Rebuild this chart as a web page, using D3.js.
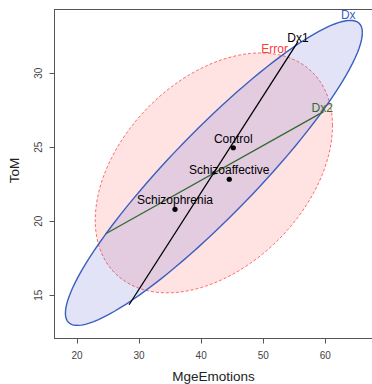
<!DOCTYPE html>
<html>
<head>
<meta charset="utf-8">
<script src="https://cdn.jsdelivr.net/npm/d3@7"></script>
<style>
	html, body { margin: 0; padding: 0; background: #fff; }
	svg { display: block; font-family: "Liberation Sans", Arial, sans-serif; }
</style>
</head>
<body>
<svg id="chart" width="372" height="384"></svg>
<script>
// HE plot: MgeEmotions vs ToM by diagnosis group

const xTicks = [20, 30, 40, 50, 60];
const yTicks = [15, 20, 25, 30];

// grand mean (centre of every ellipse)
const grandMean = [42.05, 23.27];

// group means
const groupNames = ["Control", "Schizoaffective", "Schizophrenia"];
const groupX = [45.18, 44.53, 35.79];
const groupY = [24.97, 22.84, 20.81];

// ellipse shape matrices [xx, xy, yy]
const dxShape = [572.1, 226.7, 106.2];
const errorShape = [365.3, 61.0, 65.7];

// contrast lines (1-df hypotheses), endpoints [x1, y1, x2, y2]
const dx1Line = [28.39, 14.36, 55.6, 32.14];
const dx2Line = [24.63, 19.16, 59.73, 27.41];

// ellipse / line labels: text, x, y
const ellipseLabels = [
	{ text: "Dx", x: 63.7, y: 33.66, color: "#3a5fbf" },
	{ text: "Dx1", x: 55.6, y: 32.11, color: "#000" },
	{ text: "Error", x: 51.85, y: 31.4, color: "#ff3b3b" },
	{ text: "Dx2", x: 59.5, y: 27.41, color: "#2f6b2f" },
];

const svg = d3.select("#chart");

const x = d3.scaleLinear().domain([20, 60]).range([77, 325.3]);
const y = d3.scaleLinear().domain([15, 30]).range([295.3, 73.3]);

const frame = { left: 54, top: 9, right: 378, bottom: 338 };

function ellipsePoints(center, shape, n = 120) {
	const [a, b, c] = shape;
	const r11 = Math.sqrt(a);
	const r12 = b / r11;
	const r22 = Math.sqrt(c - r12 * r12);
	return d3.range(n + 1).map((i) => {
		const t = (2 * Math.PI * i) / n;
		return [
			x(center[0] + Math.cos(t) * r11),
			y(center[1] + Math.cos(t) * r12 + Math.sin(t) * r22),
		];
	});
}

const line = d3.line();

// Error ellipse
svg
	.append("path")
	.attr("d", line(ellipsePoints(grandMean, errorShape)))
	.style("fill", "rgb(255, 90, 90)")
	.style("fill-opacity", 0.17)
	.style("stroke", "#ff6a6a")
	.style("stroke-width", "1px")
	.style("stroke-dasharray", "3 2");

// Dx ellipse
svg
	.append("path")
	.attr("d", line(ellipsePoints(grandMean, dxShape)))
	.style("fill", "rgb(70, 70, 205)")
	.style("fill-opacity", 0.15)
	.style("stroke", "#3a5fbf")
	.style("stroke-width", "1.4px");

// contrast lines
[
	{ p: dx1Line, color: "#000" },
	{ p: dx2Line, color: "#2f6b2f" },
].forEach((d) => {
	svg
		.append("line")
		.attr("x1", x(d.p[0]))
		.attr("y1", y(d.p[1]))
		.attr("x2", x(d.p[2]))
		.attr("y2", y(d.p[3]))
		.style("stroke", d.color)
		.style("stroke-width", "1.3px");
});

// centre mark
svg
	.append("circle")
	.attr("cx", x(grandMean[0]))
	.attr("cy", y(grandMean[1]))
	.attr("r", 1.8)
	.style("fill", "#000");

// group means
const groups = groupNames.map((name, i) => ({ name, gx: groupX[i], gy: groupY[i] }));

svg
	.append("g")
	.selectAll("circle")
	.data(groups)
	.enter()
	.append("circle")
	.attr("cx", (d) => x(d.gx))
	.attr("cy", (d) => y(d.gy))
	.attr("r", 2.6)
	.style("fill", "#000");

svg
	.append("g")
	.selectAll("text")
	.data(groups)
	.enter()
	.append("text")
	.attr("x", (d) => x(d.gx))
	.attr("y", (d) => y(d.gy) - 5)
	.attr("text-anchor", "middle")
	.text((d) => d.name)
	.style("font-size", "12px")
	.style("fill", "#000");

// ellipse labels
svg
	.append("g")
	.selectAll("text")
	.data(ellipseLabels)
	.enter()
	.append("text")
	.attr("x", (d) => x(d.x))
	.attr("y", (d) => y(d.y))
	.attr("text-anchor", "middle")
	.text((d) => d.text)
	.style("font-size", "12px")
	.style("fill", (d) => d.color);

// frame
svg
	.append("rect")
	.attr("x", frame.left + 0.5)
	.attr("y", frame.top + 0.5)
	.attr("width", frame.right - frame.left)
	.attr("height", frame.bottom - frame.top)
	.style("fill", "none")
	.style("stroke", "#555")
	.style("stroke-width", "1px");

// x axis
const xAxis = svg.append("g");
xTicks.forEach((t) => {
	const px = Math.round(x(t)) + 0.5;
	xAxis
		.append("line")
		.attr("x1", px)
		.attr("x2", px)
		.attr("y1", frame.bottom + 0.5)
		.attr("y2", frame.bottom + 5.5)
		.style("stroke", "#555");
	xAxis
		.append("text")
		.attr("x", x(t))
		.attr("y", 359)
		.attr("text-anchor", "middle")
		.text(t)
		.style("font-size", "10px")
		.style("fill", "#444");
});

// y axis
const yAxis = svg.append("g");
yTicks.forEach((t) => {
	const py = Math.round(y(t)) + 0.5;
	yAxis
		.append("line")
		.attr("x1", frame.left + 0.5)
		.attr("x2", frame.left - 4.5)
		.attr("y1", py)
		.attr("y2", py)
		.style("stroke", "#555");
	yAxis
		.append("text")
		.attr("transform", `translate(42,${y(t)}) rotate(-90)`)
		.attr("text-anchor", "middle")
		.text(t)
		.style("font-size", "10px")
		.style("fill", "#444");
});

// axis titles
svg
	.append("text")
	.attr("x", 213.5)
	.attr("y", 381)
	.attr("text-anchor", "middle")
	.text("MgeEmotions")
	.style("font-size", "13.5px")
	.style("fill", "#222");

svg
	.append("text")
	.attr("transform", "translate(19,170.5) rotate(-90)")
	.attr("text-anchor", "middle")
	.text("ToM")
	.style("font-size", "13.5px")
	.style("fill", "#222");
</script>
</body>
</html>
